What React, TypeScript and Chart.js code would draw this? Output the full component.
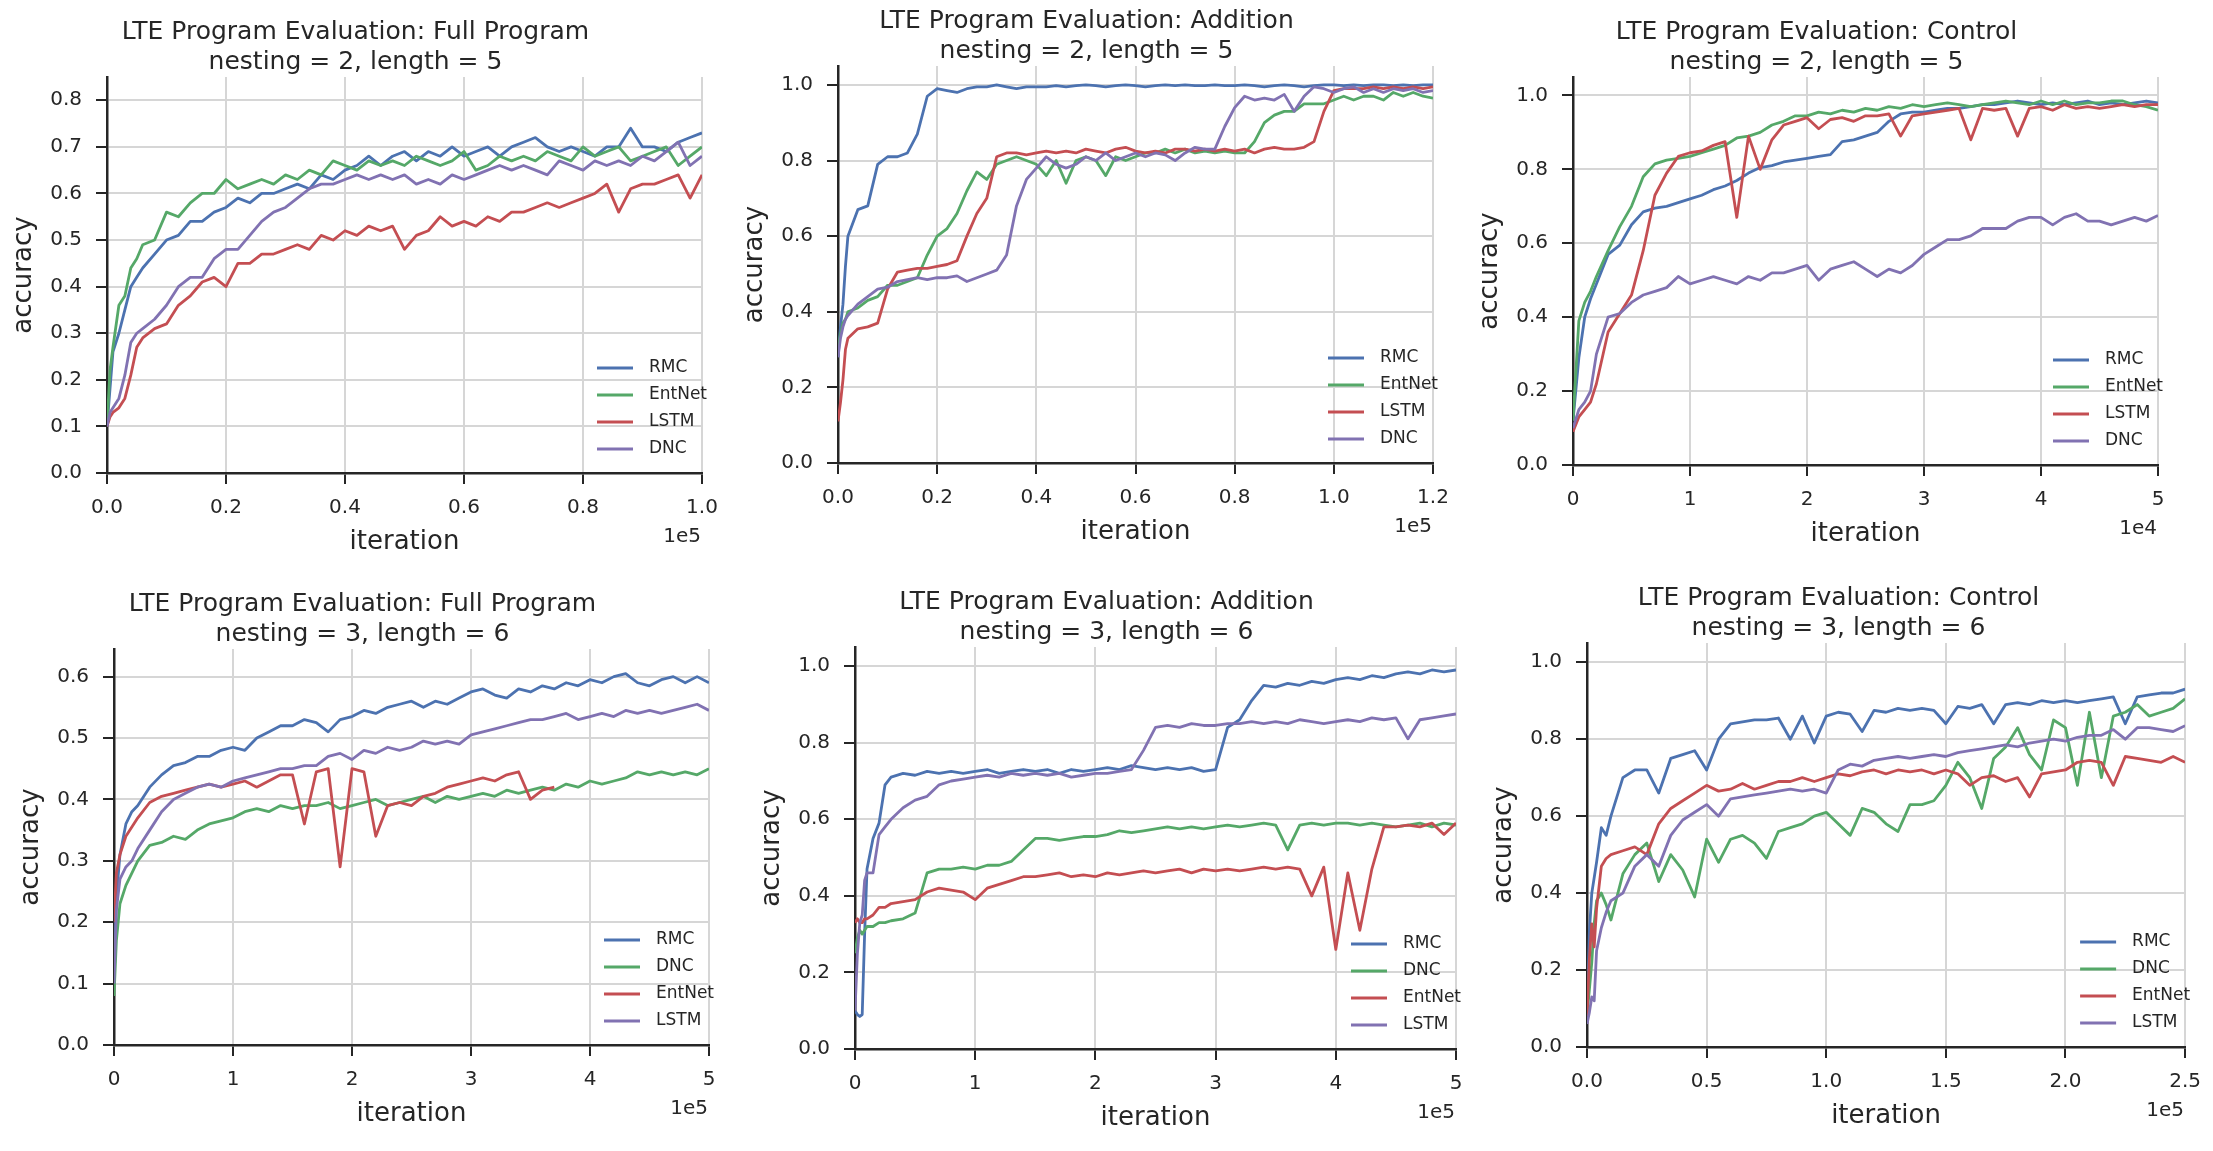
import React, { useEffect, useRef } from 'react';
import { Chart, registerables } from 'chart.js';

Chart.register(...registerables);

// ---------- colours (seaborn "deep") ----------
const BLUE = '#4C72B0';
const GREEN = '#55A868';
const RED = '#C44E52';
const PURPLE = '#8172B2';
const TEXT = '#262626';
const FONT = '"DejaVu Sans", "Liberation Sans", sans-serif';

// ---------- tick values ----------
const X_TICKS_P1 = [0, 0.2, 0.4, 0.6, 0.8, 1.0];
const Y_TICKS_P1 = [0, 0.1, 0.2, 0.3, 0.4, 0.5, 0.6, 0.7, 0.8];
const X_TICKS_P2 = [0, 0.2, 0.4, 0.6, 0.8, 1.0, 1.2];
const Y_TICKS_UNIT = [0, 0.2, 0.4, 0.6, 0.8, 1.0];
const X_TICKS_INT5 = [0, 1, 2, 3, 4, 5];
const Y_TICKS_P4 = [0, 0.1, 0.2, 0.3, 0.4, 0.5, 0.6];
const X_TICKS_P6 = [0, 0.5, 1.0, 1.5, 2.0, 2.5];

// ---------- Panel 1: Full Program, nesting 2 (x in 1e5) ----------
const X_P1 = [0, 0.005, 0.01, 0.02, 0.03, 0.04, 0.05, 0.06,
  0.08, 0.10, 0.12, 0.14, 0.16, 0.18, 0.20, 0.22, 0.24, 0.26,
  0.28, 0.30, 0.32, 0.34, 0.36, 0.38, 0.40, 0.42, 0.44, 0.46,
  0.48, 0.50, 0.52, 0.54, 0.56, 0.58, 0.60, 0.62, 0.64, 0.66,
  0.68, 0.70, 0.72, 0.74, 0.76, 0.78, 0.80, 0.82, 0.84, 0.86,
  0.88, 0.90, 0.92, 0.94, 0.96, 0.98, 1.00];
const RMC_P1 = [0.10, 0.18, 0.26, 0.30, 0.35, 0.40, 0.42, 0.44,
  0.47, 0.50, 0.51, 0.54, 0.54, 0.56, 0.57, 0.59, 0.58, 0.60,
  0.60, 0.61, 0.62, 0.61, 0.64, 0.63, 0.65, 0.66, 0.68, 0.66,
  0.68, 0.69, 0.67, 0.69, 0.68, 0.70, 0.68, 0.69, 0.70, 0.68,
  0.70, 0.71, 0.72, 0.70, 0.69, 0.70, 0.69, 0.68, 0.70, 0.70,
  0.74, 0.70, 0.70, 0.69, 0.71, 0.72, 0.73];
const ENTNET_P1 = [0.10, 0.22, 0.27, 0.36, 0.38, 0.44, 0.46, 0.49,
  0.50, 0.56, 0.55, 0.58, 0.60, 0.60, 0.63, 0.61, 0.62, 0.63,
  0.62, 0.64, 0.63, 0.65, 0.64, 0.67, 0.66, 0.65, 0.67, 0.66,
  0.67, 0.66, 0.68, 0.67, 0.66, 0.67, 0.69, 0.65, 0.66, 0.68,
  0.67, 0.68, 0.67, 0.69, 0.68, 0.67, 0.70, 0.68, 0.69, 0.70,
  0.67, 0.68, 0.69, 0.70, 0.66, 0.68, 0.70];
const LSTM_P1 = [0.10, 0.12, 0.13, 0.14, 0.16, 0.21, 0.27, 0.29,
  0.31, 0.32, 0.36, 0.38, 0.41, 0.42, 0.40, 0.45, 0.45, 0.47,
  0.47, 0.48, 0.49, 0.48, 0.51, 0.50, 0.52, 0.51, 0.53, 0.52,
  0.53, 0.48, 0.51, 0.52, 0.55, 0.53, 0.54, 0.53, 0.55, 0.54,
  0.56, 0.56, 0.57, 0.58, 0.57, 0.58, 0.59, 0.60, 0.62, 0.56,
  0.61, 0.62, 0.62, 0.63, 0.64, 0.59, 0.64];
const DNC_P1 = [0.10, 0.13, 0.14, 0.16, 0.21, 0.28, 0.30, 0.31,
  0.33, 0.36, 0.40, 0.42, 0.42, 0.46, 0.48, 0.48, 0.51, 0.54,
  0.56, 0.57, 0.59, 0.61, 0.62, 0.62, 0.63, 0.64, 0.63, 0.64,
  0.63, 0.64, 0.62, 0.63, 0.62, 0.64, 0.63, 0.64, 0.65, 0.66,
  0.65, 0.66, 0.65, 0.64, 0.67, 0.66, 0.65, 0.67, 0.66, 0.67,
  0.66, 0.68, 0.67, 0.69, 0.71, 0.66, 0.68];

// ---------- Panel 2: Addition, nesting 2 (x in 1e5) ----------
const X_P2 = [0, 0.005, 0.01, 0.015,
  0.02, 0.04, 0.06, 0.08, 0.10,
  0.12, 0.14, 0.16, 0.18, 0.20,
  0.22, 0.24, 0.26, 0.28, 0.30,
  0.32, 0.34, 0.36, 0.38, 0.40,
  0.42, 0.44, 0.46, 0.48, 0.50,
  0.52, 0.54, 0.56, 0.58, 0.60,
  0.62, 0.64, 0.66, 0.68, 0.70,
  0.72, 0.74, 0.76, 0.78, 0.80,
  0.82, 0.84, 0.86, 0.88, 0.90,
  0.92, 0.94, 0.96, 0.98, 1.00,
  1.02, 1.04, 1.06, 1.08, 1.10,
  1.12, 1.14, 1.16, 1.18, 1.20];
const RMC_P2 = [0.28, 0.36, 0.42, 0.52,
  0.60, 0.67, 0.68, 0.79, 0.81,
  0.81, 0.82, 0.87, 0.97, 0.99,
  0.985, 0.98, 0.99, 0.995, 0.995,
  1.0, 0.995, 0.99, 0.995, 0.995,
  0.995, 0.998, 0.995, 0.998, 1.0,
  0.998, 0.995, 0.998, 1.0, 0.998,
  0.995, 0.998, 1.0, 0.998, 1.0,
  0.998, 0.998, 1.0, 0.998, 0.998,
  1.0, 0.998, 0.995, 0.998, 1.0,
  0.998, 0.995, 0.998, 1.0, 1.0,
  0.998, 1.0, 0.998, 1.0, 1.0,
  0.998, 1.0, 0.998, 1.0, 1.0];
const ENTNET_P2 = [0.30, 0.34, 0.37, 0.38,
  0.40, 0.41, 0.43, 0.44, 0.47,
  0.47, 0.48, 0.49, 0.55, 0.60,
  0.62, 0.66, 0.72, 0.77, 0.75,
  0.79, 0.80, 0.81, 0.80, 0.79,
  0.76, 0.80, 0.74, 0.80, 0.81,
  0.80, 0.76, 0.81, 0.80, 0.81,
  0.82, 0.82, 0.83, 0.82, 0.83,
  0.82, 0.825, 0.82, 0.825, 0.82,
  0.82, 0.85, 0.90, 0.92, 0.93,
  0.93, 0.95, 0.95, 0.95, 0.96,
  0.97, 0.96, 0.97, 0.97, 0.96,
  0.98, 0.97, 0.98, 0.97, 0.965];
const LSTM_P2 = [0.11, 0.16, 0.22, 0.30,
  0.33, 0.355, 0.36, 0.37, 0.46,
  0.505, 0.51, 0.515, 0.515, 0.52,
  0.525, 0.535, 0.60, 0.66, 0.70,
  0.81, 0.82, 0.82, 0.815, 0.82,
  0.825, 0.82, 0.825, 0.82, 0.83,
  0.825, 0.82, 0.83, 0.835, 0.825,
  0.82, 0.825, 0.82, 0.83, 0.83,
  0.825, 0.83, 0.825, 0.83, 0.825,
  0.83, 0.82, 0.83, 0.835, 0.83,
  0.83, 0.835, 0.85, 0.93, 0.985,
  0.99, 0.99, 0.99, 0.995, 0.99,
  0.995, 0.99, 0.995, 0.99, 0.995];
const DNC_P2 = [0.28, 0.33, 0.36, 0.38,
  0.39, 0.42, 0.44, 0.46, 0.465,
  0.48, 0.485, 0.49, 0.485, 0.49,
  0.49, 0.495, 0.48, 0.49, 0.50,
  0.51, 0.55, 0.68, 0.75, 0.78,
  0.81, 0.79, 0.78, 0.79, 0.81,
  0.80, 0.82, 0.80, 0.81, 0.82,
  0.81, 0.82, 0.815, 0.80, 0.82,
  0.835, 0.83, 0.83, 0.89, 0.94,
  0.97, 0.96, 0.965, 0.96, 0.975,
  0.93, 0.97, 0.995, 0.99, 0.98,
  0.99, 0.995, 0.98, 0.99, 0.98,
  0.99, 0.985, 0.99, 0.98, 0.985];

// ---------- Panel 3: Control, nesting 2 (x in 1e4) ----------
const X_P3 = [0, 0.05, 0.1, 0.15,
  0.2, 0.3, 0.4, 0.5, 0.6,
  0.7, 0.8, 0.9, 1.0, 1.1,
  1.2, 1.3, 1.4, 1.5, 1.6,
  1.7, 1.8, 1.9, 2.0, 2.1,
  2.2, 2.3, 2.4, 2.5, 2.6,
  2.7, 2.8, 2.9, 3.0, 3.1,
  3.2, 3.3, 3.4, 3.5, 3.6,
  3.7, 3.8, 3.9, 4.0, 4.1,
  4.2, 4.3, 4.4, 4.5, 4.6,
  4.7, 4.8, 4.9, 5.0];
const RMC_P3 = [0.12, 0.29, 0.40, 0.45,
  0.49, 0.57, 0.595, 0.65, 0.685,
  0.695, 0.70, 0.71, 0.72, 0.73,
  0.745, 0.755, 0.77, 0.79, 0.805,
  0.81, 0.82, 0.825, 0.83, 0.835,
  0.84, 0.875, 0.88, 0.89, 0.90,
  0.93, 0.95, 0.955, 0.955, 0.96,
  0.965, 0.965, 0.97, 0.975, 0.975,
  0.98, 0.985, 0.98, 0.975, 0.98,
  0.975, 0.98, 0.985, 0.975, 0.98,
  0.975, 0.98, 0.985, 0.98];
const ENTNET_P3 = [0.12, 0.39, 0.44, 0.47,
  0.51, 0.58, 0.645, 0.70, 0.78,
  0.815, 0.825, 0.83, 0.835, 0.845,
  0.855, 0.865, 0.885, 0.89, 0.90,
  0.92, 0.93, 0.945, 0.945, 0.955,
  0.95, 0.96, 0.955, 0.965, 0.96,
  0.97, 0.965, 0.975, 0.97, 0.975,
  0.98, 0.975, 0.97, 0.975, 0.98,
  0.985, 0.98, 0.975, 0.985, 0.975,
  0.985, 0.975, 0.98, 0.98, 0.985,
  0.985, 0.975, 0.97, 0.96];
const LSTM_P3 = [0.09, 0.13, 0.15, 0.17,
  0.22, 0.36, 0.41, 0.46, 0.58,
  0.73, 0.79, 0.835, 0.845, 0.85,
  0.865, 0.875, 0.67, 0.89, 0.80,
  0.88, 0.92, 0.93, 0.94, 0.91,
  0.935, 0.94, 0.93, 0.945, 0.945,
  0.95, 0.89, 0.945, 0.95, 0.955,
  0.96, 0.965, 0.88, 0.965, 0.96,
  0.965, 0.89, 0.965, 0.97, 0.96,
  0.975, 0.965, 0.97, 0.965, 0.97,
  0.975, 0.97, 0.975, 0.975];
const DNC_P3 = [0.10, 0.15, 0.17, 0.20,
  0.30, 0.40, 0.41, 0.44, 0.46,
  0.47, 0.48, 0.51, 0.49, 0.50,
  0.51, 0.50, 0.49, 0.51, 0.50,
  0.52, 0.52, 0.53, 0.54, 0.50,
  0.53, 0.54, 0.55, 0.53, 0.51,
  0.53, 0.52, 0.54, 0.57, 0.59,
  0.61, 0.61, 0.62, 0.64, 0.64,
  0.64, 0.66, 0.67, 0.67, 0.65,
  0.67, 0.68, 0.66, 0.66, 0.65,
  0.66, 0.67, 0.66, 0.675];

// ---------- Panel 4: Full Program, nesting 3 (x in 1e5) ----------
const X_P4 = [0, 0.02, 0.05, 0.1, 0.15,
  0.2, 0.3, 0.4, 0.5, 0.6,
  0.7, 0.8, 0.9, 1.0, 1.1,
  1.2, 1.3, 1.4, 1.5, 1.6,
  1.7, 1.8, 1.9, 2.0, 2.1,
  2.2, 2.3, 2.4, 2.5, 2.6,
  2.7, 2.8, 2.9, 3.0, 3.1,
  3.2, 3.3, 3.4, 3.5, 3.6,
  3.7, 3.8, 3.9, 4.0, 4.1,
  4.2, 4.3, 4.4, 4.5, 4.6,
  4.7, 4.8, 4.9, 5.0];
const RMC_P4 = [0.10, 0.24, 0.31, 0.36, 0.38,
  0.39, 0.42, 0.44, 0.455, 0.46,
  0.47, 0.47, 0.48, 0.485, 0.48,
  0.50, 0.51, 0.52, 0.52, 0.53,
  0.525, 0.51, 0.53, 0.535, 0.545,
  0.54, 0.55, 0.555, 0.56, 0.55,
  0.56, 0.555, 0.565, 0.575, 0.58,
  0.57, 0.565, 0.58, 0.575, 0.585,
  0.58, 0.59, 0.585, 0.595, 0.59,
  0.60, 0.605, 0.59, 0.585, 0.595,
  0.60, 0.59, 0.60, 0.59];
const DNC_P4 = [0.08, 0.17, 0.23, 0.26, 0.28,
  0.30, 0.325, 0.33, 0.34, 0.335,
  0.35, 0.36, 0.365, 0.37, 0.38,
  0.385, 0.38, 0.39, 0.385, 0.39,
  0.39, 0.395, 0.385, 0.39, 0.395,
  0.40, 0.39, 0.395, 0.40, 0.405,
  0.395, 0.405, 0.40, 0.405, 0.41,
  0.405, 0.415, 0.41, 0.415, 0.42,
  0.415, 0.425, 0.42, 0.43, 0.425,
  0.43, 0.435, 0.445, 0.44, 0.445,
  0.44, 0.445, 0.44, 0.45];
const ENTNET_P4 = [0.20, 0.28, 0.31, 0.34, 0.355,
  0.37, 0.395, 0.405, 0.41, 0.415,
  0.42, 0.425, 0.42, 0.425, 0.43,
  0.42, 0.43, 0.44, 0.44, 0.36,
  0.445, 0.45, 0.29, 0.45, 0.445,
  0.34, 0.39, 0.395, 0.39, 0.405,
  0.41, 0.42, 0.425, 0.43, 0.435,
  0.43, 0.44, 0.445, 0.40, 0.415,
  0.42, null, null, null, null,
  null, null, null, null, null,
  null, null, null, null];
const LSTM_P4 = [0.10, 0.22, 0.27, 0.29, 0.30,
  0.32, 0.35, 0.38, 0.40, 0.41,
  0.42, 0.425, 0.42, 0.43, 0.435,
  0.44, 0.445, 0.45, 0.45, 0.455,
  0.455, 0.47, 0.475, 0.465, 0.48,
  0.475, 0.485, 0.48, 0.485, 0.495,
  0.49, 0.495, 0.49, 0.505, 0.51,
  0.515, 0.52, 0.525, 0.53, 0.53,
  0.535, 0.54, 0.53, 0.535, 0.54,
  0.535, 0.545, 0.54, 0.545, 0.54,
  0.545, 0.55, 0.555, 0.545];

// ---------- Panel 5: Addition, nesting 3 (x in 1e5) ----------
const X_P5 = [0, 0.02, 0.04, 0.06, 0.08, 0.1, 0.15, 0.2, 0.25,
  0.3, 0.4, 0.5, 0.6, 0.7,
  0.8, 0.9, 1.0, 1.1, 1.2,
  1.3, 1.4, 1.5, 1.6, 1.7,
  1.8, 1.9, 2.0, 2.1, 2.2,
  2.3, 2.4, 2.5, 2.6, 2.7,
  2.8, 2.9, 3.0, 3.1, 3.2,
  3.3, 3.4, 3.5, 3.6, 3.7,
  3.8, 3.9, 4.0, 4.1, 4.2,
  4.3, 4.4, 4.5, 4.6, 4.7,
  4.8, 4.9, 5.0];
const RMC_P5 = [0.10, 0.09, 0.085, 0.09, 0.30, 0.47, 0.55, 0.59, 0.69,
  0.71, 0.72, 0.715, 0.725, 0.72,
  0.725, 0.72, 0.725, 0.73, 0.72,
  0.725, 0.73, 0.725, 0.73, 0.72,
  0.73, 0.725, 0.73, 0.735, 0.73,
  0.74, 0.735, 0.73, 0.735, 0.73,
  0.735, 0.725, 0.73, 0.84, 0.86,
  0.91, 0.95, 0.945, 0.955, 0.95,
  0.96, 0.955, 0.965, 0.97, 0.965,
  0.975, 0.97, 0.98, 0.985, 0.98,
  0.99, 0.985, 0.99];
const DNC_P5 = [0.25, 0.29, 0.31, 0.30, 0.31, 0.32, 0.32, 0.33, 0.33,
  0.335, 0.34, 0.355, 0.46, 0.47,
  0.47, 0.475, 0.47, 0.48, 0.48,
  0.49, 0.52, 0.55, 0.55, 0.545,
  0.55, 0.555, 0.555, 0.56, 0.57,
  0.565, 0.57, 0.575, 0.58, 0.575,
  0.58, 0.575, 0.58, 0.585, 0.58,
  0.585, 0.59, 0.585, 0.52, 0.585,
  0.59, 0.585, 0.59, 0.59, 0.585,
  0.59, 0.585, 0.58, 0.585, 0.59,
  0.58, 0.59, 0.585];
const ENTNET_P5 = [0.33, 0.34, 0.33, 0.33, 0.34, 0.34, 0.35, 0.37, 0.37,
  0.38, 0.385, 0.39, 0.41, 0.42,
  0.415, 0.41, 0.39, 0.42, 0.43,
  0.44, 0.45, 0.45, 0.455, 0.46,
  0.45, 0.455, 0.45, 0.46, 0.455,
  0.46, 0.465, 0.46, 0.465, 0.47,
  0.46, 0.47, 0.465, 0.47, 0.465,
  0.47, 0.475, 0.47, 0.475, 0.47,
  0.40, 0.475, 0.26, 0.46, 0.31,
  0.47, 0.58, 0.58, 0.585, 0.58,
  0.59, 0.56, 0.59];
const LSTM_P5 = [0.10, 0.25, 0.33, 0.35, 0.44, 0.46, 0.46, 0.56, 0.58,
  0.60, 0.63, 0.65, 0.66, 0.69,
  0.70, 0.705, 0.71, 0.715, 0.71,
  0.72, 0.715, 0.72, 0.715, 0.72,
  0.71, 0.715, 0.72, 0.72, 0.725,
  0.73, 0.78, 0.84, 0.845, 0.84,
  0.85, 0.845, 0.845, 0.85, 0.85,
  0.855, 0.85, 0.855, 0.85, 0.86,
  0.855, 0.85, 0.855, 0.86, 0.855,
  0.865, 0.86, 0.865, 0.81, 0.86,
  0.865, 0.87, 0.875];

// ---------- Panel 6: Control, nesting 3 (x in 1e5) ----------
const X_P6 = [0, 0.01, 0.02, 0.03, 0.04, 0.06, 0.08,
  0.10, 0.15, 0.20, 0.25, 0.30,
  0.35, 0.40, 0.45, 0.50, 0.55,
  0.60, 0.65, 0.70, 0.75, 0.80,
  0.85, 0.90, 0.95, 1.00, 1.05,
  1.10, 1.15, 1.20, 1.25, 1.30,
  1.35, 1.40, 1.45, 1.50, 1.55,
  1.60, 1.65, 1.70, 1.75, 1.80,
  1.85, 1.90, 1.95, 2.00, 2.05,
  2.10, 2.15, 2.20, 2.25, 2.30,
  2.35, 2.40, 2.45, 2.50];
const RMC_P6 = [0.08, 0.30, 0.40, 0.44, 0.48, 0.57, 0.55,
  0.60, 0.70, 0.72, 0.72, 0.66,
  0.75, 0.76, 0.77, 0.72, 0.80,
  0.84, 0.845, 0.85, 0.85, 0.855,
  0.80, 0.86, 0.79, 0.86, 0.87,
  0.865, 0.82, 0.875, 0.87, 0.88,
  0.875, 0.88, 0.875, 0.84, 0.885,
  0.88, 0.89, 0.84, 0.89, 0.895,
  0.89, 0.90, 0.895, 0.90, 0.895,
  0.90, 0.905, 0.91, 0.84, 0.91,
  0.915, 0.92, 0.92, 0.93];
const DNC_P6 = [0.08, 0.15, 0.22, 0.32, 0.38, 0.40, 0.37,
  0.33, 0.45, 0.50, 0.53, 0.43,
  0.50, 0.46, 0.39, 0.54, 0.48,
  0.54, 0.55, 0.53, 0.49, 0.56,
  0.57, 0.58, 0.60, 0.61, 0.58,
  0.55, 0.62, 0.61, 0.58, 0.56,
  0.63, 0.63, 0.64, 0.68, 0.74,
  0.70, 0.62, 0.75, 0.78, 0.83,
  0.76, 0.72, 0.85, 0.83, 0.68,
  0.87, 0.70, 0.86, 0.87, 0.89,
  0.86, 0.87, 0.88, 0.905];
const ENTNET_P6 = [0.08, 0.23, 0.32, 0.26, 0.36, 0.47, 0.49,
  0.50, 0.51, 0.52, 0.50, 0.58,
  0.62, 0.64, 0.66, 0.68, 0.665,
  0.67, 0.685, 0.67, 0.68, 0.69,
  0.69, 0.70, 0.69, 0.70, 0.71,
  0.705, 0.715, 0.72, 0.71, 0.72,
  0.715, 0.72, 0.71, 0.72, 0.71,
  0.68, 0.70, 0.705, 0.69, 0.70,
  0.65, 0.71, 0.715, 0.72, 0.74,
  0.745, 0.74, 0.68, 0.755, 0.75,
  0.745, 0.74, 0.755, 0.74];
const LSTM_P6 = [0.06, 0.09, 0.13, 0.12, 0.25, 0.31, 0.35,
  0.38, 0.40, 0.47, 0.50, 0.47,
  0.55, 0.59, 0.61, 0.63, 0.60,
  0.645, 0.65, 0.655, 0.66, 0.665,
  0.67, 0.665, 0.67, 0.66, 0.72,
  0.735, 0.73, 0.745, 0.75, 0.755,
  0.75, 0.755, 0.76, 0.755, 0.765,
  0.77, 0.775, 0.78, 0.785, 0.78,
  0.79, 0.795, 0.80, 0.795, 0.805,
  0.81, 0.81, 0.825, 0.80, 0.83,
  0.83, 0.825, 0.82, 0.835];

// ---------- panel definitions ----------
type Series = { label: string; color: string; y: (number | null)[] };
type PanelSpec = {
  title: string[];
  x: number[];
  series: Series[];
  xMax: number;
  yMax: number;
  xTicks: number[];
  xDec: number;
  yTicks: number[];
  offset: string;
};

const PANELS: PanelSpec[] = [
  {
    title: ['LTE Program Evaluation: Full Program', 'nesting = 2, length = 5'],
    x: X_P1,
    series: [
      { label: 'RMC', color: BLUE, y: RMC_P1 },
      { label: 'EntNet', color: GREEN, y: ENTNET_P1 },
      { label: 'LSTM', color: RED, y: LSTM_P1 },
      { label: 'DNC', color: PURPLE, y: DNC_P1 },
    ],
    xMax: 1.0, yMax: 0.85, xTicks: X_TICKS_P1, xDec: 1, yTicks: Y_TICKS_P1, offset: '1e5',
  },
  {
    title: ['LTE Program Evaluation: Addition', 'nesting = 2, length = 5'],
    x: X_P2,
    series: [
      { label: 'RMC', color: BLUE, y: RMC_P2 },
      { label: 'EntNet', color: GREEN, y: ENTNET_P2 },
      { label: 'LSTM', color: RED, y: LSTM_P2 },
      { label: 'DNC', color: PURPLE, y: DNC_P2 },
    ],
    xMax: 1.2, yMax: 1.05, xTicks: X_TICKS_P2, xDec: 1, yTicks: Y_TICKS_UNIT, offset: '1e5',
  },
  {
    title: ['LTE Program Evaluation: Control', 'nesting = 2, length = 5'],
    x: X_P3,
    series: [
      { label: 'RMC', color: BLUE, y: RMC_P3 },
      { label: 'EntNet', color: GREEN, y: ENTNET_P3 },
      { label: 'LSTM', color: RED, y: LSTM_P3 },
      { label: 'DNC', color: PURPLE, y: DNC_P3 },
    ],
    xMax: 5, yMax: 1.05, xTicks: X_TICKS_INT5, xDec: 0, yTicks: Y_TICKS_UNIT, offset: '1e4',
  },
  {
    title: ['LTE Program Evaluation: Full Program', 'nesting = 3, length = 6'],
    x: X_P4,
    series: [
      { label: 'RMC', color: BLUE, y: RMC_P4 },
      { label: 'DNC', color: GREEN, y: DNC_P4 },
      { label: 'EntNet', color: RED, y: ENTNET_P4 },
      { label: 'LSTM', color: PURPLE, y: LSTM_P4 },
    ],
    xMax: 5, yMax: 0.645, xTicks: X_TICKS_INT5, xDec: 0, yTicks: Y_TICKS_P4, offset: '1e5',
  },
  {
    title: ['LTE Program Evaluation: Addition', 'nesting = 3, length = 6'],
    x: X_P5,
    series: [
      { label: 'RMC', color: BLUE, y: RMC_P5 },
      { label: 'DNC', color: GREEN, y: DNC_P5 },
      { label: 'EntNet', color: RED, y: ENTNET_P5 },
      { label: 'LSTM', color: PURPLE, y: LSTM_P5 },
    ],
    xMax: 5, yMax: 1.05, xTicks: X_TICKS_INT5, xDec: 0, yTicks: Y_TICKS_UNIT, offset: '1e5',
  },
  {
    title: ['LTE Program Evaluation: Control', 'nesting = 3, length = 6'],
    x: X_P6,
    series: [
      { label: 'RMC', color: BLUE, y: RMC_P6 },
      { label: 'DNC', color: GREEN, y: DNC_P6 },
      { label: 'EntNet', color: RED, y: ENTNET_P6 },
      { label: 'LSTM', color: PURPLE, y: LSTM_P6 },
    ],
    xMax: 2.5, yMax: 1.05, xTicks: X_TICKS_P6, xDec: 1, yTicks: Y_TICKS_UNIT, offset: '1e5',
  },
];

// ---------- layout (axes box in page pixels) ----------
const BOXES = [
  { L: 107, R: 702, T: 77, B: 473, padR: 30 },
  { L: 838, R: 1433, T: 66, B: 463, padR: 30 },
  { L: 1573, R: 2158, T: 77, B: 465, padR: 30 },
  { L: 114, R: 709, T: 649, B: 1045, padR: 30 },
  { L: 855, R: 1456, T: 647, B: 1049, padR: 30 },
  { L: 1587, R: 2188, T: 643, B: 1047, padR: 25 },
];
const Y_AXIS_W = 98;
const X_AXIS_H = 85;
const TITLE_H = 64;

const extrasPlugin = {
  id: 'extras',
  afterDraw(chart: any, _args: any, opts: any) {
    const { ctx, chartArea } = chart;
    const { right, bottom } = chartArea;
    ctx.save();
    ctx.fillStyle = TEXT;
    ctx.font = `20px ${FONT}`;
    ctx.textAlign = 'right';
    ctx.textBaseline = 'middle';
    ctx.fillText(opts.offsetText, right - 1, bottom + 64);
    const ds = chart.data.datasets;
    const n = ds.length;
    ds.forEach((d: any, i: number) => {
      const y = bottom - 24 - (n - 1 - i) * 27;
      ctx.strokeStyle = d.borderColor;
      ctx.lineWidth = 3;
      ctx.lineCap = 'butt';
      ctx.beginPath();
      ctx.moveTo(right - 105, y);
      ctx.lineTo(right - 69, y);
      ctx.stroke();
      ctx.fillStyle = TEXT;
      ctx.font = `17px ${FONT}`;
      ctx.textAlign = 'left';
      ctx.textBaseline = 'middle';
      ctx.fillText(d.label, right - 53, y);
    });
    ctx.restore();
  },
};

function Panel({ spec, box }: { spec: PanelSpec; box: typeof BOXES[number] }) {
  const ref = useRef<HTMLCanvasElement>(null);
  const w = Y_AXIS_W + (box.R - box.L) + box.padR;
  const h = TITLE_H + (box.B - box.T) + X_AXIS_H;

  useEffect(() => {
    const grid = {
      color: '#d6d6d6',
      lineWidth: 2,
      tickColor: TEXT,
      tickLength: 11,
      tickWidth: 2,
      drawTicks: true,
    };
    const border = { display: true, color: TEXT, width: 2.5 };
    const chart = new Chart(ref.current as HTMLCanvasElement, {
      type: 'line',
      data: {
        datasets: spec.series.map((s, i) => ({
          label: s.label,
          data: spec.x.map((x, j) => ({ x, y: s.y[j] })),
          borderColor: s.color,
          backgroundColor: s.color,
          borderWidth: 2.8,
          pointRadius: 0,
          tension: 0,
          fill: false,
          spanGaps: false,
          borderJoinStyle: 'round',
          order: spec.series.length - 1 - i,
        })) as any,
      },
      options: {
        animation: false,
        responsive: false,
        devicePixelRatio: 1,
        events: [],
        layout: { padding: { left: 0, top: 0, right: box.padR, bottom: 0 } },
        plugins: {
          legend: { display: false },
          tooltip: { enabled: false },
          title: {
            display: true,
            text: spec.title,
            color: TEXT,
            font: { family: FONT, size: 25, weight: 'normal', lineHeight: 1.2 },
            padding: { top: 4, bottom: 0 },
          },
          extras: { offsetText: spec.offset },
        } as any,
        scales: {
          x: {
            type: 'linear',
            min: 0,
            max: spec.xMax,
            afterBuildTicks: (axis: any) => {
              axis.ticks = spec.xTicks.map((v) => ({ value: v }));
            },
            afterFit: (axis: any) => {
              axis.height = X_AXIS_H;
            },
            ticks: {
              callback: (v: any) => Number(v).toFixed(spec.xDec),
              color: TEXT,
              font: { family: FONT, size: 20 },
              padding: 12,
              maxRotation: 0,
              autoSkip: false,
            },
            grid,
            border,
            title: {
              display: true,
              text: 'iteration',
              color: TEXT,
              font: { family: FONT, size: 26, lineHeight: 1.2 },
              padding: 0,
            },
          },
          y: {
            type: 'linear',
            min: 0,
            max: spec.yMax,
            afterBuildTicks: (axis: any) => {
              axis.ticks = spec.yTicks.map((v) => ({ value: v }));
            },
            afterFit: (axis: any) => {
              axis.width = Y_AXIS_W;
            },
            ticks: {
              callback: (v: any) => Number(v).toFixed(1),
              color: TEXT,
              font: { family: FONT, size: 20 },
              padding: 14,
              autoSkip: false,
            },
            grid,
            border,
            title: {
              display: true,
              text: 'accuracy',
              color: TEXT,
              font: { family: FONT, size: 26, lineHeight: 1.2 },
              padding: 0,
            },
          },
        } as any,
      },
      plugins: [extrasPlugin],
    });
    return () => chart.destroy();
  }, [spec]);

  return (
    <canvas
      ref={ref}
      width={w}
      height={h}
      style={{
        position: 'absolute',
        left: box.L - Y_AXIS_W,
        top: box.T - TITLE_H,
        width: w,
        height: h,
      }}
    />
  );
}

export default function App() {
  return (
    <div
      style={{
        position: 'absolute',
        left: 0,
        top: 0,
        width: 2213,
        height: 1151,
        background: '#ffffff',
        overflow: 'hidden',
      }}
    >
      {PANELS.map((p, i) => (
        <Panel key={i} spec={p} box={BOXES[i]} />
      ))}
    </div>
  );
}
